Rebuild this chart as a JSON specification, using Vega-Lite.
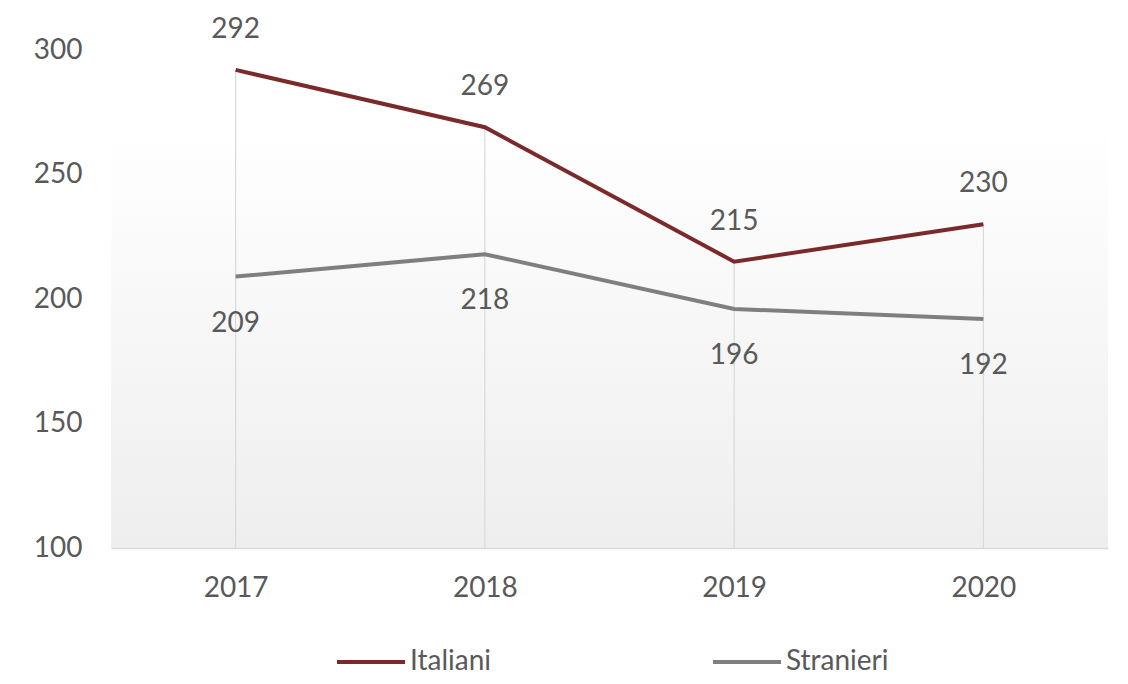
{
  "$schema": "https://vega.github.io/schema/vega-lite/v6.json",
  "width": 997,
  "height": 498,
  "autosize": {"type": "none"},
  "padding": {"left": 111, "top": 50, "right": 20, "bottom": 136},
  "background": "white",
  "config": {
    "font": "Lato",
    "view": {
      "stroke": null,
      "fill": {"gradient": "linear", "x1": 0, "y1": 0, "x2": 0, "y2": 1,
        "stops": [{"offset": 0, "color": "#ffffff"}, {"offset": 0.15, "color": "#ffffff"}, {"offset": 1, "color": "#eeeeee"}]}
    }
  },
  "data": {
    "values": [
      {"year": "2017", "series": "Italiani", "value": 292},
      {"year": "2018", "series": "Italiani", "value": 269},
      {"year": "2019", "series": "Italiani", "value": 215},
      {"year": "2020", "series": "Italiani", "value": 230},
      {"year": "2017", "series": "Stranieri", "value": 209},
      {"year": "2018", "series": "Stranieri", "value": 218},
      {"year": "2019", "series": "Stranieri", "value": 196},
      {"year": "2020", "series": "Stranieri", "value": 192}
    ]
  },
  "encoding": {
    "x": {
      "field": "year",
      "type": "ordinal",
      "scale": {"type": "point", "padding": 0.5},
      "axis": {
        "title": null,
        "labelAngle": 0,
        "labelFont": "Lato",
        "labelFontSize": 28,
        "labelColor": "#595959",
        "labelPadding": 26,
        "ticks": false,
        "grid": false,
        "domainColor": "#d9d9d9",
        "domainWidth": 1.5
      }
    }
  },
  "layer": [
    {
      "transform": [{"filter": "datum.series === 'Italiani'"}],
      "mark": {"type": "rule", "color": "#d9d9d9", "strokeWidth": 1.2},
      "encoding": {
        "y": {"field": "value", "type": "quantitative", "scale": {"domain": [100, 300], "nice": false, "zero": false}},
        "y2": {"datum": 100}
      }
    },
    {
      "mark": {"type": "line", "strokeWidth": 4},
      "encoding": {
        "y": {
          "field": "value",
          "type": "quantitative",
          "scale": {"domain": [100, 300], "nice": false, "zero": false},
          "axis": {
            "title": null,
            "values": [100, 150, 200, 250, 300],
            "labelFont": "Lato",
            "labelFontSize": 28,
            "labelColor": "#595959",
            "labelPadding": 29,
            "ticks": false,
            "domain": false,
            "grid": false
          }
        },
        "color": {
          "field": "series",
          "type": "nominal",
          "scale": {"domain": ["Italiani", "Stranieri"], "range": ["#7b2a2b", "#7f7f7f"]},
          "legend": {
            "title": null,
            "orient": "none",
            "legendX": 224,
            "legendY": 576,
            "direction": "horizontal",
            "symbolType": "stroke",
            "symbolSize": 4624,
            "symbolStrokeWidth": 4,
            "labelFont": "Lato",
            "labelFontSize": 28,
            "labelColor": "#595959",
            "labelOffset": 3,
            "columnPadding": 214,
            "padding": 0
          }
        }
      }
    },
    {
      "transform": [{"filter": "datum.series === 'Italiani'"}],
      "mark": {"type": "text", "dy": -40, "font": "Lato", "fontSize": 28, "color": "#595959", "baseline": "middle"},
      "encoding": {
        "y": {"field": "value", "type": "quantitative"},
        "text": {"field": "value", "type": "quantitative"}
      }
    },
    {
      "transform": [{"filter": "datum.series === 'Stranieri'"}],
      "mark": {"type": "text", "dy": 47, "font": "Lato", "fontSize": 28, "color": "#595959", "baseline": "middle"},
      "encoding": {
        "y": {"field": "value", "type": "quantitative"},
        "text": {"field": "value", "type": "quantitative"}
      }
    }
  ]
}
